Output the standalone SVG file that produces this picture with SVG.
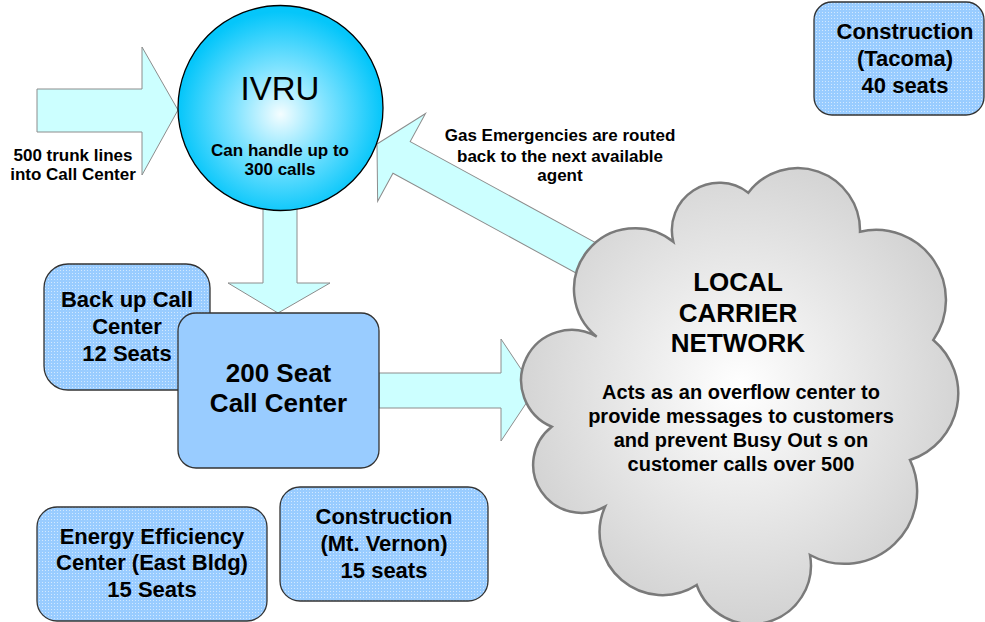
<svg xmlns="http://www.w3.org/2000/svg" width="985" height="622" viewBox="0 0 985 622">
<style>
text{font-family:"Liberation Sans",Arial,sans-serif;font-weight:bold;fill:#000;text-anchor:middle}
.arrow{fill:#CCFFFF;stroke:#8C8C8C;stroke-width:1}
.box{stroke:#333;stroke-width:1.3}
.dot{fill:url(#dots)}
.t17{font-size:17px}
.t22{font-size:22px}
.t26{font-size:26px}
.t20{font-size:20px}
</style>
<defs>
<pattern id="dots" width="3" height="3" patternUnits="userSpaceOnUse">
<rect width="3" height="3" fill="#99CCFF"/>
<rect width="1" height="1" fill="#FFFFFF" opacity="0.55"/>
</pattern>
<radialGradient id="ivruGrad" cx="0.5" cy="0.53" r="0.5">
<stop offset="0" stop-color="#F4FDFF"/>
<stop offset="0.45" stop-color="#80E3FF"/>
<stop offset="1" stop-color="#05C6FA"/>
</radialGradient>
<radialGradient id="cloudGrad" cx="0.5" cy="0.48" r="0.55">
<stop offset="0" stop-color="#FFFFFF"/>
<stop offset="1" stop-color="#D0D0D0"/>
</radialGradient>
</defs>

<g id="connectors">
<polygon id="trunk-arrow" class="arrow" points="37,89 142,89 142,47 178,110 142,175 142,132 37,132"/>
<polygon id="ivru-to-center" class="arrow" points="263,200 297,200 297,283 330,283 278,313 228,283 263,283"/>
<polygon id="center-to-cloud" class="arrow" points="379,373 501,373 501,339 535,390 501,441 501,408 379,408"/>
<polygon id="cloud-to-ivru" class="arrow" transform="translate(377,144) rotate(28.6)" points="0,0 28,-50 28,-18 262,-18 262,18 28,18 28,50"/>
</g>

<g id="trunk-label">
<text class="t17" x="73" y="161">500 trunk lines</text>
<text class="t17" x="73" y="180">into Call Center</text>
</g>

<g id="gas-label">
<text class="t17" x="560" y="141">Gas Emergencies are routed</text>
<text class="t17" x="560" y="162">back to the next available</text>
<text class="t17" x="560" y="181">agent</text>
</g>

<g id="ivru">
<circle cx="280.5" cy="108" r="102.5" fill="url(#ivruGrad)" stroke="#000" stroke-width="1.3"/>
<text x="280" y="100" style="font-size:33px;font-weight:normal">IVRU</text>
<text class="t17" x="280" y="156">Can handle up to</text>
<text class="t17" x="280" y="175">300 calls</text>
</g>

<g id="backup-center">
<rect class="box dot" x="44" y="264" width="166" height="126" rx="24"/>
<text class="t22" x="127" y="307">Back up Call</text>
<text class="t22" x="127" y="334">Center</text>
<text class="t22" x="127" y="361">12 Seats</text>
</g>

<g id="main-center">
<rect class="box" x="178" y="313" width="201" height="155" rx="18" fill="#99CCFF"/>
<text class="t26" x="278.5" y="382">200 Seat</text>
<text class="t26" x="278.5" y="412">Call Center</text>
</g>

<g id="energy-center">
<rect class="box dot" x="37" y="507" width="230" height="114" rx="20"/>
<text class="t22" x="152" y="544">Energy Efficiency</text>
<text class="t22" x="152" y="570">Center (East Bldg)</text>
<text class="t22" x="152" y="597">15 Seats</text>
</g>

<g id="construction-mtvernon">
<rect class="box dot" x="280" y="487" width="208" height="114" rx="20"/>
<text class="t22" x="384" y="524">Construction</text>
<text class="t22" x="384" y="551">(Mt. Vernon)</text>
<text class="t22" x="384" y="578">15 seats</text>
</g>

<g id="construction-tacoma">
<rect class="box dot" x="814" y="2" width="170" height="113" rx="18"/>
<text class="t22" x="905" y="39">Construction</text>
<text class="t22" x="905" y="66">(Tacoma)</text>
<text class="t22" x="905" y="93">40 seats</text>
</g>

<g id="local-carrier-network">
<path d="M673.3,241.7 A47.4,47.4 0 0 1 748.3,192.7 A62.2,62.2 0 0 1 860,231.7 A70,70 0 0 1 933.3,340 A69.9,69.9 0 0 1 910,460 A72.5,72.5 0 0 1 810,555 A58.8,58.8 0 0 1 696.7,585 A62.9,62.9 0 0 1 605,506.7 A48.2,48.2 0 0 1 551.7,426.7 A50.4,50.4 0 1 1 596.7,336.7 A61,61 0 0 1 673.3,241.7 Z" fill="url(#cloudGrad)" stroke="#7A7A7A" stroke-width="2.5" stroke-linejoin="miter"/>
<text class="t26" x="738" y="291">LOCAL</text>
<text class="t26" x="738" y="322">CARRIER</text>
<text class="t26" x="738" y="352">NETWORK</text>
<text class="t20" x="741" y="399">Acts as an overflow center to</text>
<text class="t20" x="741" y="423">provide messages to customers</text>
<text class="t20" x="741" y="447">and prevent Busy Out s on</text>
<text class="t20" x="741" y="471">customer calls over 500</text>
</g>
</svg>
